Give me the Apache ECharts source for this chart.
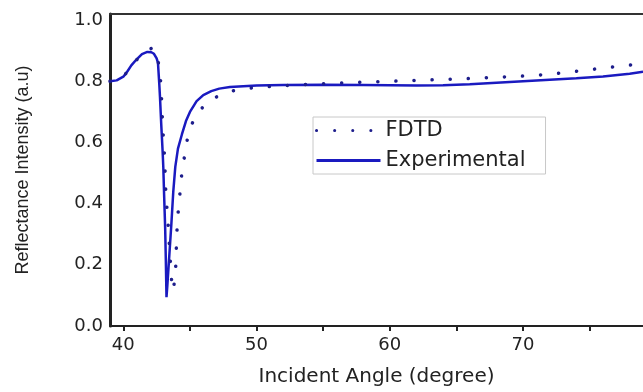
<!DOCTYPE html>
<html><head><meta charset="utf-8">
<script src="https://cdn.jsdelivr.net/npm/echarts@6/dist/echarts.min.js"></script>
<style>html,body{margin:0;padding:0;background:#fff}#c{width:643px;height:392px}</style>
</head><body><div id="c"></div>
<script>
// Experimental (solid line)
const expAngle = [39.0, 39.5, 40.0, 40.3, 40.6, 41.0, 41.4, 41.8, 42.1, 42.3, 42.5, 42.6, 42.7, 42.75, 42.85, 42.95, 43.0, 43.06, 43.14, 43.19, 43.24,
  43.3, 43.45, 43.6, 43.75, 43.9, 44.1, 44.4, 44.7, 45.0, 45.5, 46.0, 46.6, 47.2, 48, 49, 50, 52, 55, 58, 60, 62, 64, 66, 68, 70, 72, 74, 76, 78, 79];
const expValue = [0.800, 0.803, 0.815, 0.832, 0.852, 0.872, 0.889, 0.896, 0.895, 0.890, 0.875, 0.860, 0.790, 0.750, 0.655, 0.570, 0.520, 0.430, 0.320, 0.215, 0.094,
  0.130, 0.230, 0.330, 0.440, 0.520, 0.580, 0.627, 0.670, 0.700, 0.735, 0.755, 0.768, 0.776, 0.781, 0.784, 0.786, 0.788, 0.789, 0.788, 0.787, 0.786, 0.787, 0.790, 0.795, 0.800, 0.805, 0.810, 0.816, 0.825, 0.831];
// FDTD (dotted line)
const fdtdAngle = [39.0, 39.5, 40.0, 40.5, 41.0, 41.4, 41.8, 42.2, 42.5, 42.74, 42.86, 42.96, 43.11, 43.19, 43.34, 43.49, 43.61, 43.74, 43.85, 43.94, 44.01, 44.09, 44.24, 44.39, 44.61, 44.84, 45.14, 45.51, 46.04, 46.64, 47.24,
  48, 49, 50, 52, 54, 56, 58, 60, 62, 64, 66, 68, 70, 72, 74, 76, 78, 79];
const fdtdValue = [0.800, 0.803, 0.815, 0.842, 0.870, 0.889, 0.900, 0.910, 0.885, 0.840, 0.754, 0.647, 0.540, 0.430, 0.348, 0.240, 0.155, 0.115, 0.150, 0.200, 0.300, 0.360, 0.430, 0.500, 0.560, 0.620, 0.660, 0.690, 0.720, 0.740, 0.755,
  0.767, 0.775, 0.780, 0.786, 0.790, 0.794, 0.797, 0.800, 0.803, 0.806, 0.809, 0.813, 0.817, 0.823, 0.833, 0.843, 0.853, 0.858];
const xTickLabels = [40, 50, 60, 70];
const xTickMarks = [40, 45, 50, 55, 60, 65, 70, 75];
const yTickLabels = [0.0, 0.2, 0.4, 0.6, 0.8, 1.0];
const seriesNames = ['FDTD', 'Experimental'];

const pairs = (xs, ys) => xs.map((x, i) => [x, ys[i]]);
const chart = echarts.init(document.getElementById('c'), null, {renderer: 'canvas'});
const txt = '#222';
chart.setOption({
  backgroundColor: '#fff',
  animation: false,
  grid: {left: 110, right: 0, top: 14, bottom: 61},
  legend: {
    data: seriesNames,
    orient: 'vertical',
    left: 313, top: 117,
    itemWidth: 64, itemHeight: 12, itemGap: 9,
    padding: [3, 20, 3, 2],
    borderColor: '#c8c8c8', borderWidth: 1,
    itemStyle: {opacity: 0},
    lineStyle: {width: 3},
    textStyle: {fontFamily: 'DejaVu Sans', fontSize: 21, color: txt}
  },
  xAxis: [{
    type: 'value', min: 39, max: 79,
    name: 'Incident Angle (degree)', nameLocation: 'middle', nameGap: 41,
    nameTextStyle: {fontFamily: 'DejaVu Sans', fontSize: 20, color: txt},
    axisLine: {lineStyle: {color: '#222', width: 2}},
    axisTick: {show: true, customValues: xTickMarks, length: 5, lineStyle: {color: '#222', width: 2}},
    axisLabel: {customValues: xTickLabels, fontFamily: 'DejaVu Sans', fontSize: 18, color: txt, margin: 10},
    splitLine: {show: false}
  }, {
    type: 'value', min: 39, max: 79, position: 'top',
    axisLine: {show: true, lineStyle: {color: '#333', width: 2}},
    axisTick: {show: false}, axisLabel: {show: false}, splitLine: {show: false}
  }],
  yAxis: {
    type: 'value', min: 0, max: 1.02,
    name: 'Reflectance Intensity (a.u)', nameLocation: 'middle', nameGap: 78, nameRotate: 90,
    nameTextStyle: {fontFamily: 'Liberation Sans', fontSize: 18, color: txt},
    axisLine: {show: true, lineStyle: {color: '#222', width: 3}},
    axisTick: {show: false},
    axisLabel: {customValues: yTickLabels, formatter: v => v.toFixed(1), fontFamily: 'DejaVu Sans', fontSize: 18, color: txt, margin: 7},
    splitLine: {show: false}
  },
  series: [{
    name: 'Experimental', type: 'line', symbol: 'none', data: pairs(expAngle, expValue),
    lineStyle: {color: '#1a1ac0', width: 2.5}, itemStyle: {color: '#1a1ac0'}, z: 2
  }, {
    name: 'FDTD', type: 'line', symbol: 'none', data: pairs(fdtdAngle, fdtdValue),
    lineStyle: {color: '#1e1e8c', width: 3.5, type: [0.1, 18], cap: 'round'}, itemStyle: {color: '#1e1e8c'}, z: 3
  }]
});
</script></body></html>
